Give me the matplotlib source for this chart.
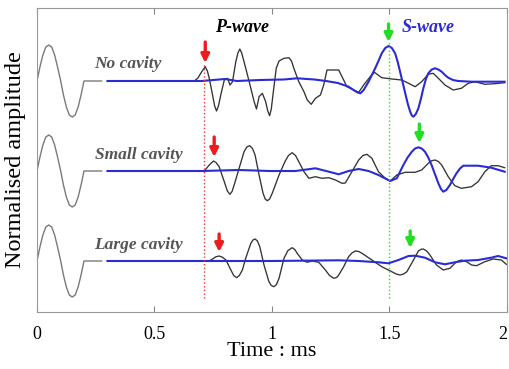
import matplotlib
matplotlib.use("Agg")
import matplotlib.pyplot as plt

# ---------------- data (time in ms, amplitude in arbitrary units) ----------------
src_t = [0, 0.0125, 0.025, 0.0375, 0.05, 0.0625, 0.075, 0.0875, 0.1, 0.1125,
         0.125, 0.1375, 0.15, 0.1625, 0.175, 0.1875, 0.2, 0.275]
src_a = [0, 14, 26, 34, 36, 34, 26, 14, 1, -14, -26, -34, -36, -34, -26, -14, 0, 0]

# No cavity
nc_black_t = [0.30, 0.50, 0.669, 0.684, 0.700, 0.716, 0.725, 0.733, 0.747, 0.756, 0.764, 0.772,
              0.782, 0.797, 0.811, 0.821, 0.832, 0.846, 0.855, 0.863, 0.871, 0.881, 0.903,
              0.924, 0.934, 0.945, 0.959, 0.973, 0.982, 0.990, 0.997, 1.004, 1.018, 1.030,
              1.051, 1.072, 1.083, 1.093, 1.114, 1.136, 1.150, 1.167, 1.185, 1.206, 1.220,
              1.234, 1.256, 1.284, 1.298, 1.319, 1.347, 1.369, 1.390, 1.418, 1.436, 1.467,
              1.510, 1.552, 1.581, 1.609, 1.637, 1.665, 1.686, 1.708, 1.736, 1.771, 1.806,
              1.835, 1.863, 1.906, 1.948, 1.990]
nc_black_a = [0, 0, 0, 2.7, 9, 14.3, 10, 2.7, -14, -25, -30, -25,
              -14, 1, 2.7, -4, -0.7, 19.3, 28, 32, 28, 19.3, -0.7,
              -20.7, -28, -15.7, -12.3, -20.7, -30, -34.7, -28, -14, 12.7, 20,
              22.7, 23.3, 20, 12.7, -0.7, -10.7, -19, -23.3, -17.3, -14, -4,
              11, 11, 11, 4.3, -5.7, -9, -11.3, -4, 4.3, 8.7, 3.3,
              2, 1, -2.3, -5.7, -0.7, 6.7, 7.7, 2.7, -4, -9, -7.3,
              -2.3, -0.7, -3.3, -2.7, -1.7]
nc_blue_t = [0.30, 0.70, 0.80, 0.85, 0.95, 1.05, 1.107, 1.18, 1.23, 1.28, 1.326, 1.362, 1.376,
             1.390, 1.411, 1.425, 1.439, 1.453, 1.467, 1.482, 1.496, 1.510, 1.524, 1.535,
             1.545, 1.556, 1.567, 1.578, 1.588, 1.595, 1.602, 1.612, 1.623, 1.634, 1.644,
             1.655, 1.665, 1.680, 1.694, 1.708, 1.722, 1.736, 1.750, 1.770, 1.792, 1.849,
             1.990]
nc_blue_a = [0, 0, 2, 0, 1, 1.5, 2.7, 1.5, 0, -2, -5.7, -11.3, -12.3,
             -9, -0.7, 6, 12.7, 20, 27.7, 33, 35, 33, 27.7, 19,
             9.3, -1.5, -12.3, -23, -30.7, -34.5, -35.7, -33, -27.3, -17.5, -7.3,
             2, 7.7, 11.5, 12.7, 11.5, 9.3, 6, 3.3, 1, 0, -0.7,
             -0.7]

# Small cavity
sc_black_t = [0.30, 0.50, 0.712, 0.733, 0.751, 0.762, 0.775, 0.797, 0.810, 0.821, 0.830, 0.839,
              0.860, 0.881, 0.893, 0.905, 0.917, 0.928, 0.945, 0.962, 0.971, 0.980, 0.990,
              1.001, 1.030, 1.055, 1.070, 1.086, 1.100, 1.114, 1.136, 1.157, 1.185, 1.213,
              1.242, 1.270, 1.298, 1.312, 1.340, 1.369, 1.387, 1.404, 1.425, 1.453, 1.482,
              1.503, 1.531, 1.567, 1.609, 1.637, 1.665, 1.680, 1.694, 1.708, 1.722, 1.750,
              1.778, 1.806, 1.849, 1.877, 1.906, 1.933, 1.962, 1.990]
sc_black_a = [0, 0, 0, 6, 10, 8.5, 4.3, -10.7, -20, -23.3, -20.5, -14,
              2.7, 19.3, 24, 25.3, 22.5, 16, -4, -22.3, -28, -29.7, -28,
              -22.3, -4, 9.3, 15.5, 18.3, 15.5, 9.3, -0.7, -7.3, -5.7, -7.3,
              -6.7, -9, -12.3, -12, -0.7, 11, 15.5, 16.7, 12.7, -0.7, -7.3,
              -10, -4, -1.3, -1.3, 1, 7.7, 10.3, 11, 9.5, 6, -5.7,
              -14.7, -17.3, -15.7, -10.7, -0.7, 5.3, 5.3, 3.3]
sc_blue_t = [0.30, 0.70, 0.86, 0.99, 1.10, 1.185, 1.242, 1.284, 1.326, 1.369, 1.411, 1.453,
             1.503, 1.531, 1.559, 1.577, 1.595, 1.609, 1.623, 1.637, 1.651, 1.665, 1.679,
             1.694, 1.708, 1.719, 1.729, 1.742, 1.757, 1.771, 1.785, 1.800, 1.814, 1.877,
             1.933, 1.990]
sc_blue_a = [0, 0, 1, 0, 0, 2.7, -0.7, -3.3, 0, 2, 0, -4,
             -10, -7.3, 6, 13.5, 19.3, 22.5, 23.7, 22.5, 19.3, 13.5, 6,
             -3.5, -12.3, -18, -20.7, -19, -14, -8, -2.3, 2.5, 5.3, 5.3,
             3.3, -0.7]

# Large cavity
lc_black_t = [0.30, 0.50, 0.733, 0.747, 0.762, 0.775, 0.789, 0.804, 0.825, 0.837, 0.849, 0.861,
              0.874, 0.888, 0.910, 0.919, 0.928, 0.938, 0.948, 0.966, 0.987, 0.997, 1.008,
              1.019, 1.030, 1.051, 1.068, 1.086, 1.097, 1.107, 1.129, 1.150, 1.171, 1.199,
              1.227, 1.245, 1.263, 1.275, 1.284, 1.305, 1.326, 1.340, 1.355, 1.369, 1.383,
              1.425, 1.467, 1.510, 1.528, 1.545, 1.560, 1.574, 1.602, 1.623, 1.634, 1.644,
              1.658, 1.672, 1.700, 1.729, 1.757, 1.785, 1.806, 1.828, 1.849, 1.870, 1.906,
              1.941, 1.976, 1.997]
lc_black_a = [0, 0, 0, 2, 4.3, 5, 3.8, 1, -9, -14.5, -16.7, -14.5,
              -9, 2.7, 17.7, 21, 22, 20, 14.3, -4, -20.7, -24.5, -25.7,
              -23.5, -17.3, 2.7, 10.5, 13.3, 11.5, 7.7, 1, -1.3, 0, -1.3,
              -9, -14.5, -17.3, -16.5, -14, -5.7, 4.3, 8, 10, 9.5, 7.7,
              1, -5.7, -10.7, -13, -14, -13, -10.7, 1, 10, 11.7, 12,
              10, 6, -4, -9, -7.3, -0.7, 1, -0.7, -4, -4.7, -0.7,
              2, 1, -3.3]
lc_blue_t = [0.30, 1.00, 1.284, 1.369, 1.453, 1.496, 1.538, 1.581, 1.609, 1.651, 1.694, 1.736,
             1.778, 1.820, 1.877, 1.933, 1.962, 1.997]
lc_blue_a = [0, 0, 0.7, 0, -1.3, -2.3, 1, 5, 5.3, 3.3, -1.3, -3.3,
             -1.3, 0.3, 1, 3.3, 5, 2.7]

labels = ["No cavity", "Small cavity", "Large cavity"]
offsets = [231, 141, 51]
p_arrival = [0.716, 0.754, 0.775]
s_arrival = [1.496, 1.627, 1.588]
p_line = 0.712
s_line = 1.5
xticks = [0, 0.5, 1, 1.5, 2]
xtick_labels = ["0", "0.5", "1", "1.5", "2"]

# ---------------- plotting ----------------
plt.rcParams['font.family'] = ['Liberation Serif', 'DejaVu Serif']
fig = plt.figure(figsize=(5.10, 3.69), dpi=100)
ax = fig.add_axes([37/510, 57/369, 470/510, 304/369])

gray = '#7a7a7a'
blk = '#333333'
blue = '#2b2bd6'

traces = [(nc_black_t, nc_black_a, nc_blue_t, nc_blue_a),
          (sc_black_t, sc_black_a, sc_blue_t, sc_blue_a),
          (lc_black_t, lc_black_a, lc_blue_t, lc_blue_a)]

for (bt, ba, ut, ua), off in zip(traces, offsets):
    ax.plot(src_t, [off + v for v in src_a], color=gray, lw=1.0,
            solid_joinstyle='round')
    ax.plot(bt, [off + v for v in ba], color=blk, lw=0.95,
            solid_joinstyle='round')
    ax.plot(ut, [off + v for v in ua], color=blue, lw=1.5,
            solid_joinstyle='round')

# dotted arrival lines
ax.plot([p_line, p_line], [14, 249], color='#ff3030', lw=1.0, ls=':')
ax.plot([s_line, s_line], [14, 270], color='#30dd30', lw=1.0, ls=':')

# arrows
p_arrow_y = [(270, 249), (175, 155), (78, 60)]
s_arrow_y = [(288, 270), (188, 169), (81, 64)]
for x, (y0, y1) in zip(p_arrival, p_arrow_y):
    ax.annotate('', xy=(x, y1), xytext=(x, y0),
                arrowprops=dict(arrowstyle='-|>', color='#ee1c1c', lw=2.4,
                                mutation_scale=12, shrinkA=0, shrinkB=0))
for x, (y0, y1) in zip(s_arrival, s_arrow_y):
    ax.annotate('', xy=(x, y1), xytext=(x, y0),
                arrowprops=dict(arrowstyle='-|>', color='#22dd22', lw=2.4,
                                mutation_scale=12, shrinkA=0, shrinkB=0))

# texts
ax.text(0.872, 284, "P-wave", fontsize=13, fontweight='bold', fontstyle='italic',
        color='black', ha='center', va='center')
ax.text(1.664, 284, "S-wave", fontsize=13, fontweight='bold', fontstyle='italic',
        color=blue, ha='center', va='center')
label_pos = [(0.387, 248), (0.432, 157), (0.434, 67)]
for lab, (x, y) in zip(labels, label_pos):
    ax.text(x, y, lab, fontsize=12.5, fontweight='bold', fontstyle='italic',
            color='#555555', ha='center', va='center')

ax.set_xlim(0, 2)
ax.set_ylim(0, 304)
ax.set_xticks(xticks)
ax.set_xticklabels(xtick_labels)
ax.set_yticks([])
ax.tick_params(axis='x', direction='in', top=True, length=4, width=0.8,
               color='#888888', labelsize=13, pad=10)
# keep the last tick label just inside the figure edge
ax.get_xticklabels()[-1].set_horizontalalignment('right')
for s in ax.spines.values():
    s.set_color('#999999')
    s.set_linewidth(0.8)

ax.set_xlabel("Time : ms", fontsize=16)
ax.xaxis.set_label_coords(0.5, -0.10)
ax.set_ylabel("Normalised amplitude", fontsize=17.5)
ax.yaxis.set_label_coords(-0.023, 0.5)

fig.savefig("out.png", dpi=100)
